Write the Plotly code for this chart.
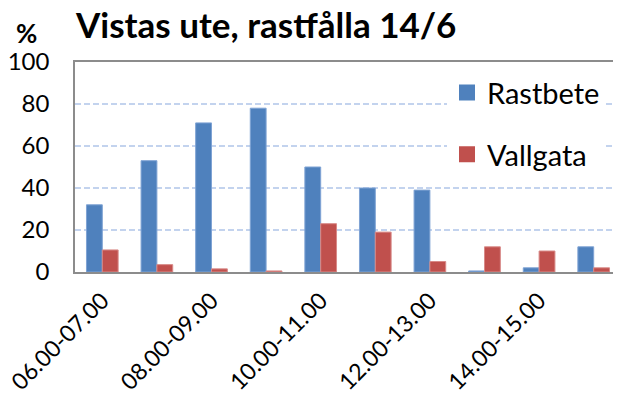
import plotly.graph_objects as go

categories = ["06.00-07.00", "07.00-08.00", "08.00-09.00", "09.00-10.00", "10.00-11.00",
              "11.00-12.00", "12.00-13.00", "13.00-14.00", "14.00-15.00", "15.00-16.00"]
rastbete = [32, 53, 71, 78, 50, 40, 39, 0.5, 2, 12]
vallgata = [10.5, 3.5, 1.5, 0.5, 23, 19, 5, 12, 10, 2]
y_ticks = [0, 20, 40, 60, 80, 100]
series_names = ["Rastbete", "Vallgata"]
colors = ["#4F81BD", "#C0504D"]
edge_colors = ["#7fa3d4", "#d88a88"]

FONT = "Lato"
OFF = 8  # page body margin of the html page
W, H = 621 - OFF, 401 - OFF

fig = go.Figure()
for name, vals, c, ec in zip(series_names, [rastbete, vallgata], colors, edge_colors):
    fig.add_trace(go.Bar(x=categories, y=vals, name=name, marker_color=c,
                         marker_line=dict(color=ec, width=1), showlegend=False))
# legend proxies (bigger squares)
for i, (name, c) in enumerate(zip(series_names, colors)):
    fig.add_trace(go.Scatter(x=[None], y=[None], mode="markers", name=name,
                             marker=dict(symbol="square", size=16, color=c),
                             legendgroup=f"g{i}"))

fig.update_layout(
    width=W, height=H,
    margin=dict(l=75 - OFF, r=0, t=62 - OFF, b=H - (272 - OFF), autoexpand=False),
    plot_bgcolor="white", paper_bgcolor="white",
    barmode="group", bargap=0.42, bargroupgap=0,
    font=dict(family=FONT, color="black", size=24),
    title=dict(text="<b>Vistas ute, rastfålla 14/6</b>", x=(76 - OFF) / W, xanchor="left",
               xref="container", y=1 - (25.5 - OFF) / H, yanchor="middle", yref="container",
               font=dict(family=FONT, size=35, color="black")),
    legend=dict(x=(447 - 75) / 546, xanchor="left", y=0.975, yanchor="top",
                bgcolor="white", font=dict(family=FONT, size=29, color="black"),
                traceorder="grouped", tracegroupgap=21),
    annotations=[dict(text="<b>%</b>", x=(26 - 75) / 546, y=(272 - 32.5) / 210,
                      xref="paper", yref="paper",
                      xanchor="center", yanchor="middle", showarrow=False,
                      font=dict(family=FONT, size=26, color="black"))],
)

fig.update_yaxes(range=[0, 100], tickvals=y_ticks, showgrid=True, automargin=False,
                 gridcolor="#c3d3ee", griddash="6px,3px", gridwidth=1.5,
                 showline=True, linecolor="#8c8c8c", linewidth=1.5, mirror=True,
                 ticks="", ticklabelstandoff=19, zeroline=False,
                 tickfont=dict(family=FONT, size=24, color="black"))
fig.update_xaxes(type="category", tickvals=categories[::2], tickangle=-45, automargin=False,
                 showline=True, linecolor="#8c8c8c", linewidth=2, mirror=True,
                 ticks="", ticklabelstandoff=4, tickfont=dict(family=FONT, size=23, color="black"))

fig.write_html("out.html")
